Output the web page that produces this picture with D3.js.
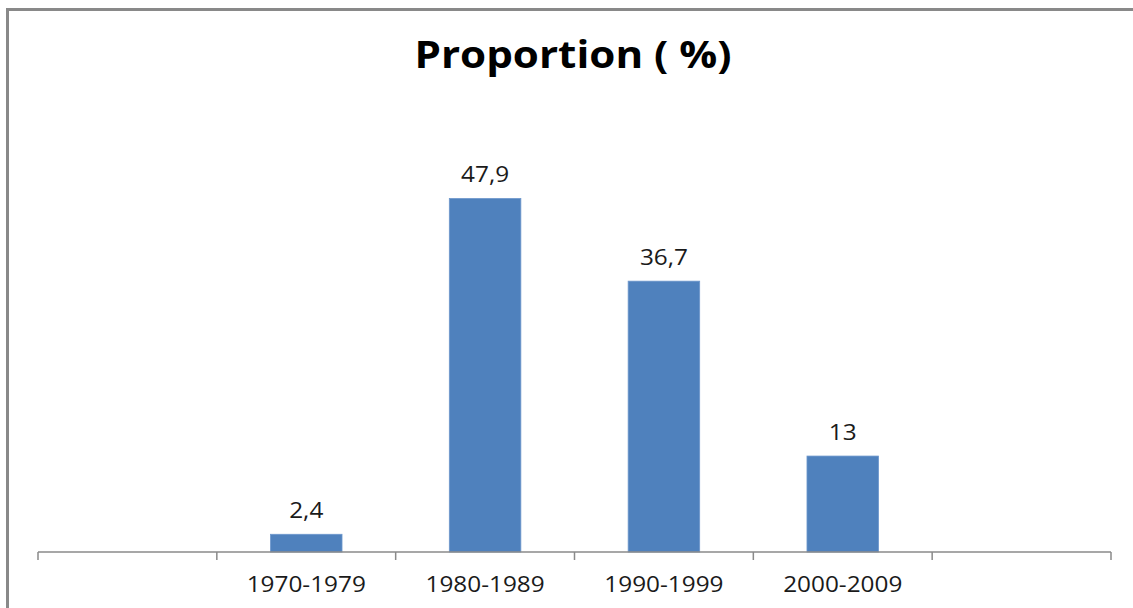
<!DOCTYPE html>
<html>
<head>
<meta charset="utf-8">
<script src="https://cdn.jsdelivr.net/npm/d3@7"></script>
<style>
  html, body { margin: 0; padding: 0; background: #fff; }
  svg { display: block; }
</style>
</head>
<body>
<svg id="chart" width="1133" height="608"></svg>
<script>
// data
const categories = ["blank-left", "1970-1979", "1980-1989", "1990-1999", "2000-2009", "blank-right"];
const values = [null, 2.4, 47.9, 36.7, 13, null];
const valueLabels = ["", "2,4", "47,9", "36,7", "13", ""];
const title = "Proportion ( %)";

const width = 1133;
const height = 608;
const font = "'Open Sans', sans-serif";
const stretch = 1.16; // reference text is rendered wide
const titleStretch = 1.11;

const svgNode = document.getElementById("chart");
const svg = d3.select(svgNode);

// background + frame
svg.append("rect")
  .attr("width", width)
  .attr("height", height)
  .attr("fill", "#ffffff");

svg.append("rect")
  .attr("x", 7.5)
  .attr("y", 9.5)
  .attr("width", width + 20)
  .attr("height", height + 20)
  .attr("fill", "none")
  .attr("stroke", "#898989")
  .attr("stroke-width", 3);

const margin = { left: 38, right: 22, top: 109, bottom: 56 };
const baseline = height - margin.bottom; // 552

const x = d3.scaleBand()
  .domain(categories)
  .range([margin.left, width - margin.right])
  .padding(0);

const y = d3.scaleLinear()
  .domain([0, 60])
  .range([baseline, baseline - 60 * 7.38]);

const barWidth = x.bandwidth() * 0.4;

// text placed with a horizontal stretch
const placeText = (sel, fx, fy, s = stretch) =>
  sel
    .attr("x", 0)
    .attr("y", 0)
    .attr("transform", (d) => `translate(${fx(d)},${fy(d)}) scale(${s},1)`);

// title
svg.append("text")
  .datum(title)
  .call(placeText, () => 573, () => 68, titleStretch)
  .attr("text-anchor", "middle")
  .attr("font-family", font)
  .attr("font-weight", "bold")
  .attr("font-size", 38)
  .attr("fill", "#000")
  .text((d) => d);

// bars
const data = categories.map((c, i) => ({ cat: c, value: values[i], label: valueLabels[i] }))
  .filter((d) => d.value !== null);

const vizLayer = svg.append("g").attr("id", "viz");

vizLayer.selectAll("rect")
  .data(data)
  .join("rect")
  .attr("x", (d) => x(d.cat) + (x.bandwidth() - barWidth) / 2)
  .attr("y", (d) => y(d.value))
  .attr("width", barWidth)
  .attr("height", (d) => y(0) - y(d.value))
  .attr("fill", "#4f81bd")
  .attr("stroke", "#6d97cc")
  .attr("stroke-width", 0.8);

vizLayer.selectAll("text")
  .data(data)
  .join("text")
  .call(placeText, (d) => x(d.cat) + x.bandwidth() / 2, (d) => y(d.value) - 16)
  .attr("text-anchor", "middle")
  .attr("font-family", font)
  .attr("font-size", 21)
  .attr("fill", "#1a1a1a")
  .text((d) => d.label);

// x axis: ticks at band boundaries
const axisLayer = svg.append("g").attr("id", "axis");

axisLayer.append("line")
  .attr("x1", x.range()[0])
  .attr("x2", x.range()[1])
  .attr("y1", baseline)
  .attr("y2", baseline)
  .attr("stroke", "#8a8a8a")
  .attr("stroke-width", 1.5);

const tickPositions = categories.map((c) => x(c)).concat([x.range()[1]]);

axisLayer.selectAll("line.tick")
  .data(tickPositions)
  .join("line")
  .attr("class", "tick")
  .attr("x1", (d) => d)
  .attr("x2", (d) => d)
  .attr("y1", baseline)
  .attr("y2", baseline + 8)
  .attr("stroke", "#8a8a8a")
  .attr("stroke-width", 1.5);

axisLayer.selectAll("text")
  .data(categories.filter((c) => !c.startsWith("blank")))
  .join("text")
  .call(placeText, (d) => x(d) + x.bandwidth() / 2, () => 592)
  .attr("text-anchor", "middle")
  .attr("font-family", font)
  .attr("font-size", 21)
  .attr("fill", "#1a1a1a")
  .text((d) => d);
</script>
</body>
</html>
